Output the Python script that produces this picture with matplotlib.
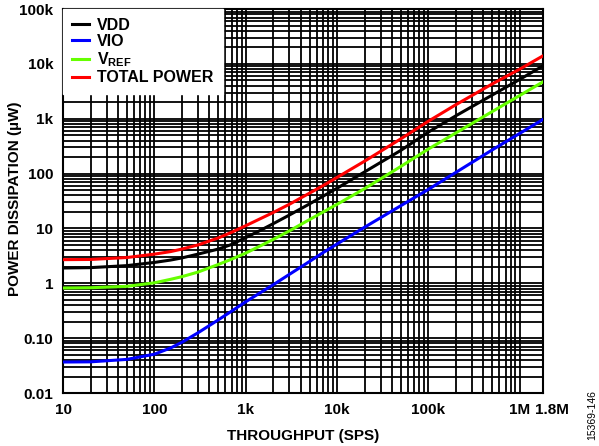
import numpy as np
import matplotlib
matplotlib.use('Agg')
import matplotlib.pyplot as plt
import matplotlib.transforms as mtransforms
from matplotlib.ticker import FixedLocator, LogLocator, NullFormatter

plt.rcParams['font.family'] = ['Liberation Sans', 'DejaVu Sans']
plt.rcParams['font.weight'] = 'bold'
plt.rcParams['mathtext.fontset'] = 'custom'
plt.rcParams['mathtext.rm'] = 'Liberation Sans:bold'
plt.rcParams['mathtext.bf'] = 'Liberation Sans:bold'

# スループット (SPS)
throughput = [10, 20, 50, 100, 150, 200, 300, 500, 700, 1e3, 1.5e3, 2e3, 3e3,
              5e3, 7e3, 1e4, 2e4, 5e4, 1e5, 2e5, 5e5, 1e6, 1.8e6]

# 消費電力 (µW) - 図から読み取った値
vdd = [1.9, 1.93, 2.1, 2.4, 2.65, 2.9, 3.4, 4.2, 5.1, 6.8, 9.5, 12.2, 17.5,
       28, 38.5, 54, 107, 265, 570, 1130, 2700, 5200, 9200]
vio = [0.0367, 0.037, 0.041, 0.051, 0.066, 0.084, 0.125, 0.215, 0.31, 0.46,
       0.7, 0.94, 1.45, 2.5, 3.6, 5.2, 10.5, 26, 51.5, 105, 270, 540, 970]
vref = [0.82, 0.83, 0.88, 1.02, 1.18, 1.32, 1.6, 2.2, 2.75, 3.55, 4.95, 6.3,
        9.0, 14.5, 19.8, 27.5, 53, 135, 280, 550, 1350, 2650, 4700]
total = [2.7, 2.72, 2.95, 3.4, 3.78, 4.2, 5.0, 6.7, 8.5, 11.2, 15.5, 19.5,
         27.5, 44, 60, 85, 168, 430, 900, 1800, 4300, 8000, 14000]

x_ticks = [10, 100, 1e3, 1e4, 1e5, 1e6, 1.8e6]
x_labels = ['10', '100', '1k', '10k', '100k', '1M', '1.8M']
y_ticks = [0.01, 0.1, 1, 10, 100, 1e3, 1e4, 1e5]
y_labels = ['0.01', '0.10', '1', '10', '100', '1k', '10k', '100k']

fig = plt.figure(figsize=(5.99, 4.46), dpi=100)
ax = fig.add_axes([0.1052, 0.1188, 0.8013, 0.8610])

ax.set_xscale('log')
ax.set_yscale('log')
ax.set_xlim(10, 1.8e6)
ax.set_ylim(0.01, 1e5)

ax.plot(throughput, vdd, color='black', lw=2.2, label='VDD', zorder=3)
ax.plot(throughput, vio, color='#0000ff', lw=2.2, label='VIO', zorder=3)
ax.plot(throughput, vref, color='#66ff00', lw=2.2, label=r'V$_{\mathrm{REF}}$', zorder=3)
ax.plot(throughput, total, color='#ff0000', lw=2.2, label='TOTAL POWER', zorder=3)

ax.xaxis.set_major_locator(FixedLocator(x_ticks))
ax.set_xticklabels(x_labels)
ax.yaxis.set_major_locator(FixedLocator(y_ticks))
ax.set_yticklabels(y_labels)
ax.xaxis.set_minor_locator(LogLocator(base=10, subs=np.arange(2, 10)))
ax.yaxis.set_minor_locator(LogLocator(base=10, subs=np.arange(2, 10)))
ax.xaxis.set_minor_formatter(NullFormatter())
ax.yaxis.set_minor_formatter(NullFormatter())

ax.grid(True, which='both', color='black', lw=1.3)
ax.set_axisbelow(True)
ax.tick_params(which='both', length=0, labelsize=11)
ax.tick_params(axis='x', pad=7)
ax.tick_params(axis='y', pad=7)
for s in ax.spines.values():
    s.set_linewidth(1.5)

# 1.8M のラベルを少し右へ
lbl = ax.get_xticklabels()[-1]
lbl.set_transform(lbl.get_transform() + mtransforms.ScaledTranslation(9 / 100, 0, fig.dpi_scale_trans))

ax.set_xlabel('THROUGHPUT (SPS)', fontsize=11, fontweight='bold', labelpad=9)
fig.text(15 / 599, 1 - 199 / 446, 'POWER DISSIPATION (µW)', rotation=90,
         fontsize=11, fontweight='bold', ha='center', va='center')

leg = ax.legend(loc='upper left', fontsize=11.5, frameon=True, fancybox=False,
                handlelength=1.1, handletextpad=0.5, borderaxespad=0,
                labelspacing=0.08, borderpad=0.55)
leg.get_frame().set_edgecolor('white')
leg.get_frame().set_facecolor('white')
leg.get_frame().set_alpha(1)
leg.set_zorder(5)

fig.text(0.988, 0.0135, '15369-146', rotation=90, fontsize=7.5, fontweight='normal',
         ha='center', va='bottom')

fig.savefig('out.png', dpi=100)
